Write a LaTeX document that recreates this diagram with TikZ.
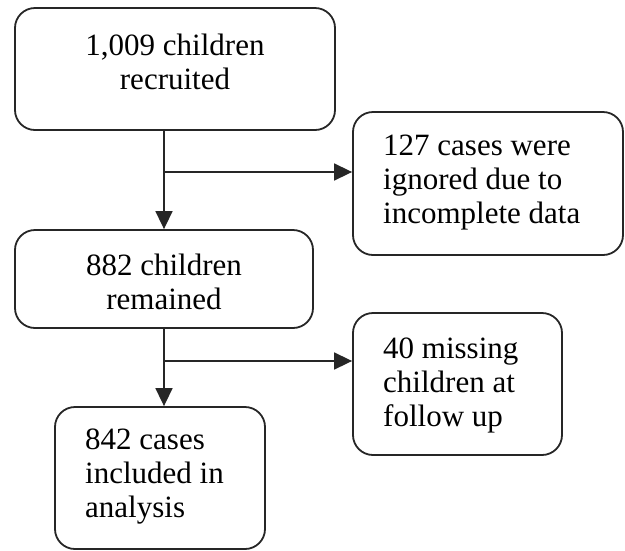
\documentclass[tikz,border=0pt]{standalone}
\usepackage{fontspec}
\setmainfont{Liberation Serif}
\usetikzlibrary{arrows.meta}
\begin{document}
\begin{tikzpicture}[x=1pt,y=-1pt,
  box/.style={draw=black!85, line width=1.8pt, rounded corners=20pt, inner sep=0pt},
  txt/.style={inner sep=0pt, font=\fontsize{31}{34}\selectfont},
  arr/.style={draw=black!85, line width=1.6pt, -{Triangle[length=18pt,width=17pt]}},
  ln/.style={draw=black!85, line width=1.6pt}]
\useasboundingbox (0,0) rectangle (625,550);
% boxes
\node[box, minimum width=320pt, minimum height=122pt] (b1) at (175,69) {};
\node[box, minimum width=270pt, minimum height=143pt] (b2) at (488,183.5) {};
\node[box, minimum width=298pt, minimum height=98pt] (b3) at (164,279) {};
\node[box, minimum width=209pt, minimum height=142pt] (b4) at (457.5,384) {};
\node[box, minimum width=210pt, minimum height=142pt] (b5) at (160,478) {};
% texts
\node[txt, align=center] (t1) at (175,62) {1,009 children\\recruited};
\node[txt, align=left, anchor=west] (t2) at (383,183) {127 cases were\\ignored due to\\incomplete data};
\node[txt, align=center] (t3) at (164,282) {882 children\\remained};
\node[txt, align=left, anchor=west] (t4) at (383,385) {40 missing\\children at\\follow up};
\node[txt, align=left, anchor=west] (t5) at (85,477) {842 cases\\included in\\analysis};
% connectors
\coordinate (j1) at (164,172);
\coordinate (j2) at (164,361);
\draw[arr] (b1.south -| b3.north) -- (b3.north);
\draw[arr] (j1) -- (j1 -| b2.west);
\draw[arr] (b3.south) -- (b3.south |- b5.north);
\draw[arr] (j2) -- (j2 -| b4.west);
\end{tikzpicture}
\end{document}
